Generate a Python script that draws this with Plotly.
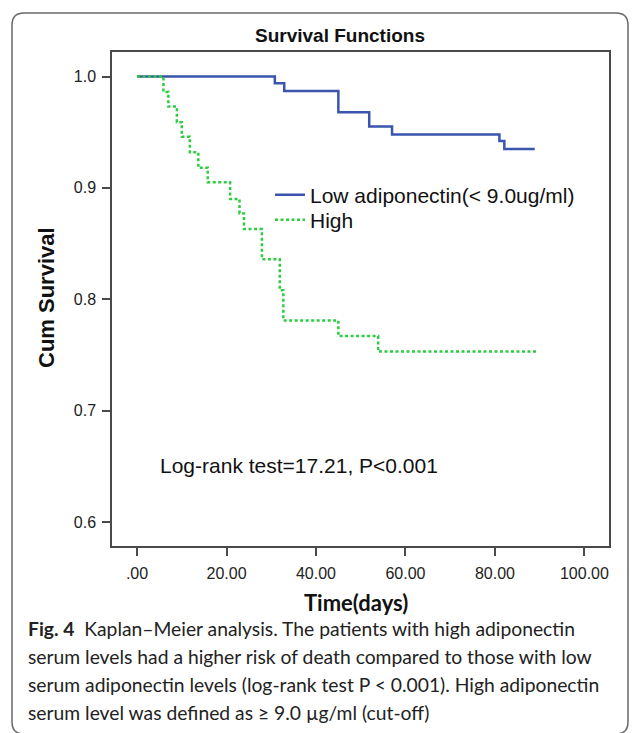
import plotly.graph_objects as go

# ---- data ----
low_time = [0, 30.8, 32.9, 45.0, 51.9, 57.0, 81.0, 82.1, 88.9]
low_surv = [1.0, 0.994, 0.987, 0.968, 0.955, 0.948, 0.942, 0.935, 0.935]

high_time = [0, 5.9, 7.0, 8.9, 10.0, 11.8, 13.7, 15.8, 20.8, 22.9, 23.9,
             27.9, 31.9, 32.7, 45.0, 53.9, 89.3]
high_surv = [1.0, 0.986, 0.973, 0.959, 0.946, 0.932, 0.918, 0.905, 0.890,
             0.877, 0.863, 0.836, 0.808, 0.781, 0.767, 0.753, 0.753]

x_tickvals = [0, 20, 40, 60, 80, 100]
x_ticktext = [".00", "20.00", "40.00", "60.00", "80.00", "100.00"]
y_tickvals = [0.6, 0.7, 0.8, 0.9, 1.0]
y_ticktext = ["0.6", "0.7", "0.8", "0.9", "1.0"]

series_names = ["Low adiponectin(< 9.0ug/ml)", "High"]
title_text = "Survival Functions"
x_title = "Time(days)"
y_title = "Cum Survival"
stat_text = "Log-rank test=17.21, P<0.001"
caption_lines = [
    "<b>Fig. 4</b>  Kaplan\u2013Meier analysis. The patients with high adiponectin",
    "serum levels had a higher risk of death compared to those with low",
    "serum adiponectin levels (log-rank test P < 0.001). High adiponectin",
    "serum level was defined as \u2265 9.0 \u00b5g/ml (cut-off)",
]

# ---- layout geometry (pixels) ----
W, H = 636, 733
PL, PR, PT, PB = 112, 609, 52, 546
pw, ph = PR - PL, PB - PT


def px(X):
    return (X - PL) / pw


def py(Y):
    return (PB - Y) / ph


fig = go.Figure()
fig.add_trace(go.Scatter(
    x=low_time, y=low_surv, mode="lines", line_shape="hv",
    name=series_names[0], legend="legend",
    line=dict(color="#3a55ad", width=2.5),
))
fig.add_trace(go.Scatter(
    x=high_time, y=high_surv, mode="lines", line_shape="hv",
    name=series_names[1], legend="legend2",
    line=dict(color="#2ecc40", width=2.5, dash="3px,2.5px"),
))

axis_common = dict(
    showline=True, linecolor="#4a4a4a", linewidth=1.5, mirror=True,
    ticks="outside", ticklen=8, tickwidth=1.5, tickcolor="#4a4a4a",
    showgrid=False, zeroline=False,
    tickfont=dict(family="Liberation Sans, Arial", size=16, color="#222"),
)
fig.update_xaxes(range=[-5.6, 105.5], tickmode="array", tickvals=x_tickvals,
                 ticktext=x_ticktext, ticklabelstandoff=4, **axis_common)
fig.update_yaxes(range=[0.5784, 1.022], tickmode="array", tickvals=y_tickvals,
                 ticktext=y_ticktext, ticklabelstandoff=3, **axis_common)

# outer rounded border
L, R, T, B = px(12), px(628), py(13), py(734)
rx, ry = 12 / pw, 12 / ph
path = (f"M {L+rx},{T} L {R-rx},{T} Q {R},{T} {R},{T-ry} "
        f"L {R},{B+ry} Q {R},{B} {R-rx},{B} L {L+rx},{B} Q {L},{B} {L},{B+ry} "
        f"L {L},{T-ry} Q {L},{T} {L+rx},{T} Z")
fig.add_shape(type="path", path=path, xref="paper", yref="paper",
              line=dict(color="#6a6a6a", width=1.5), layer="below")

ann = []
ann.append(dict(text=f"<b>{title_text}</b>", x=px(340), y=py(35),
                xref="paper", yref="paper", showarrow=False,
                xanchor="center", yanchor="middle",
                font=dict(family="Liberation Sans, Arial", size=19, color="#111")))
ann.append(dict(text=f"<b>{y_title}</b>", x=px(46), y=py(298),
                xref="paper", yref="paper", showarrow=False, textangle=-90,
                xanchor="center", yanchor="middle",
                font=dict(family="Liberation Sans, Arial", size=22, color="#111")))
ann.append(dict(text=f"<b>{x_title}</b>", x=px(356), y=py(602),
                xref="paper", yref="paper", showarrow=False,
                xanchor="center", yanchor="middle",
                font=dict(family="Lato", size=22, color="#111")))
ann.append(dict(text=stat_text, x=px(158), y=py(465),
                xref="paper", yref="paper", showarrow=False,
                xanchor="left", yanchor="middle",
                font=dict(family="Liberation Sans, Arial", size=21, color="#111")))
for i, line in enumerate(caption_lines):
    ann.append(dict(text=line, x=px(26), y=py(628 + 28 * i),
                    xref="paper", yref="paper", showarrow=False,
                    xanchor="left", yanchor="middle",
                    font=dict(family="Lato", size=19.3, color="#222")))

legend_font = dict(family="Liberation Sans, Arial", size=21, color="#111")
fig.update_layout(
    width=W, height=H,
    margin=dict(l=PL, r=W - PR, t=PT, b=H - PB),
    paper_bgcolor="white", plot_bgcolor="white",
    showlegend=True,
    legend=dict(x=px(270), y=py(195), xanchor="left", yanchor="middle",
                bgcolor="rgba(0,0,0,0)", font=legend_font, itemwidth=30),
    legend2=dict(x=px(270), y=py(220), xanchor="left", yanchor="middle",
                 bgcolor="rgba(0,0,0,0)", font=legend_font, itemwidth=30),
    annotations=ann,
)

fig.write_html("out.html", config={"displayModeBar": False},
               post_script="document.body.style.margin='0';document.body.style.padding='0';")
